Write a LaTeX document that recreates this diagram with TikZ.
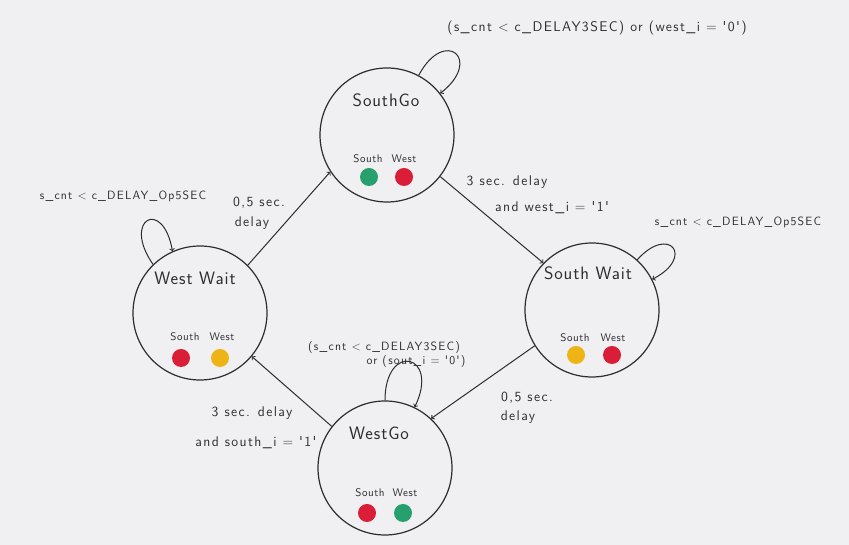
\documentclass[tikz,border=0pt]{standalone}
\usepackage{fontspec}
\newfontfamily\handfont{Latin Modern Sans}[LetterSpace=10]
\newfontfamily\namefont{Latin Modern Sans}[LetterSpace=5]
\definecolor{paper}{RGB}{240,240,242}
\definecolor{pencil}{RGB}{45,45,48}
\definecolor{lampgreen}{RGB}{40,160,110}
\definecolor{lampred}{RGB}{218,30,55}
\definecolor{lampyellow}{RGB}{238,180,22}
\begin{document}
\begin{tikzpicture}
[
    x=1pt, y=1pt,
    every node/.style={font=\handfont, text=pencil},
    state/.style={draw=pencil, circle, line width=1.2pt, minimum size=134pt},
    statename/.style={font=\namefont\fontsize{18}{20}\selectfont},
    lampname/.style={font=\namefont\fontsize{11}{12}\selectfont},
    lamp/.style={circle, minimum size=18pt, inner sep=0pt},
    cond/.style={font=\handfont\fontsize{14}{16}\selectfont},
    loopcond/.style={font=\handfont\fontsize{12}{14}\selectfont},
    trans/.style={draw=pencil, line width=1pt, ->}
]
    \fill[paper] (0,0) rectangle (849,545);

    % states
    \node [state] (sg) at (387,410) {};
    \node [state] (ww) at (200,232) {};
    \node [state] (sw) at (592,235) {};
    \node [state] (wg) at (385,77) {};

    \node [statename] (sgname) at (386,445) {SouthGo};
    \node [lampname] (sgsouth) at (368,386) {South};
    \node [lampname] (sgwest) at (404,386) {West};
    \node [lamp, fill=lampgreen] (sgs) at (369,368) {};
    \node [lamp, fill=lampred] (sgw) at (404,368) {};

    \node [statename] (wwname) at (195,267) {West Wait};
    \node [lampname] (wwsouth) at (185,208) {South};
    \node [lampname] (wwwest) at (222,208) {West};
    \node [lamp, fill=lampred] (wws) at (181,187) {};
    \node [lamp, fill=lampyellow] (www) at (220,187) {};

    \node [statename] (swname) at (588,272) {South Wait};
    \node [lampname] (swsouth) at (575,207) {South};
    \node [lampname] (swwest) at (613,207) {West};
    \node [lamp, fill=lampyellow] (sws) at (576,190) {};
    \node [lamp, fill=lampred] (sww) at (612,190) {};

    \node [statename] (wgname) at (379,112) {WestGo};
    \node [lampname] (wgsouth) at (370,52) {South};
    \node [lampname] (wgwest) at (405,52) {West};
    \node [lamp, fill=lampred] (wgs) at (367,32) {};
    \node [lamp, fill=lampgreen] (wgw) at (403,32) {};

    % transitions
    \draw [trans] (ww.45) -- (sg.213);
    \draw [trans] (sg.-38) -- (sw.136);
    \draw [trans] (sw.212) -- (wg.47);
    \draw [trans] (wg.142) -- (ww.-40);

    % self loops
    \draw [trans] (sg) to [out=62, in=38, looseness=5] (sg);
    \draw [trans] (ww.134) to [out=125, in=100, looseness=6] (ww.114);
    \draw [trans] (sw) to [out=48, in=27, looseness=5] (sw);
    \draw [trans] (wg) to [out=90, in=64, looseness=5] (wg);

    % conditions
    \node [cond] (wwsg1) at (259,342) {0,5 sec.};
    \node [cond] (wwsg2) at (252,322) {delay};
    \node [cond] (sgsw1) at (507,363) {3 sec. delay};
    \node [cond] (sgsw2) at (552,337) {and west\_i = '1'};
    \node [cond] (swwg1) at (527,147) {0,5 sec.};
    \node [cond] (swwg2) at (518,128) {delay};
    \node [cond] (wgww1) at (252,132) {3 sec. delay};
    \node [cond, anchor=east] (wgww2) at (320,102) {and south\_i = '1'};

    \node [cond] (sgloop) at (597,517) {(s\_cnt < c\_DELAY3SEC) or (west\_i = '0')};
    \node [loopcond] (wwloop) at (123,349) {s\_cnt < c\_DELAY\_Op5SEC};
    \node [loopcond] (swloop) at (738,323) {s\_cnt < c\_DELAY\_Op5SEC};
    \node [loopcond] (wgloop1) at (384,197) {(s\_cnt < c\_DELAY3SEC)};
    \node [loopcond] (wgloop2) at (416,183) {or (sout\_i = '0')};
\end{tikzpicture}
\end{document}
